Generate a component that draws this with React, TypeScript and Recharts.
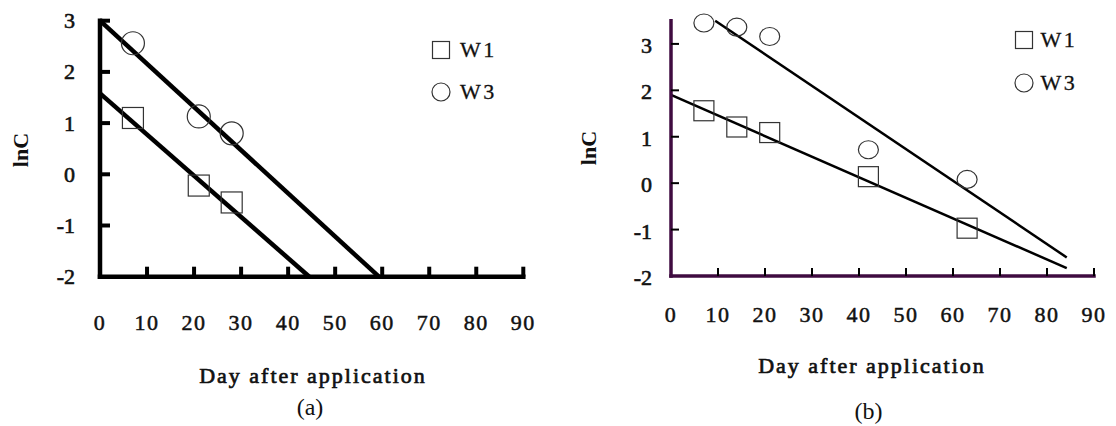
import { ComposedChart, Line, Scatter, XAxis, YAxis, Legend } from 'recharts';

const SERIF = '"Liberation Serif", "Times New Roman", serif';

const dayTicks = [0, 10, 20, 30, 40, 50, 60, 70, 80, 90];
const lnTicks = [-2, -1, 0, 1, 2, 3];
const seriesNames = ['W1', 'W3'];

// panel (a)
const daysA = [7, 21, 28];
const w1LnA = [1.1, -0.22, -0.55];
const w3LnA = [2.56, 1.13, 0.8];
const w1FitDaysA = [0, 44.5];
const w1FitLnA = [1.58, -2];
const w3FitDaysA = [0, 59.3];
const w3FitLnA = [3, -2];

// panel (b)
const daysB = [7, 14, 21, 42, 63];
const w1LnB = [1.56, 1.21, 1.09, 0.14, -0.97];
const w3LnB = [3.45, 3.36, 3.16, 0.72, 0.08];
const w1FitDaysB = [0, 84.2];
const w1FitLnB = [1.9, -1.83];
const w3FitDaysB = [9.4, 84.2];
const w3FitLnB = [3.5, -1.6];

const pts = (xs: number[], ys: number[]) => xs.map((x, i) => ({ x, y: ys[i] }));

type Cfg = {
  left: number;
  margin: { top: number; right: number; left: number; bottom: number };
  yDomain: [number, number];
  axisColor: string;
  axisWidth: number;
  tickWidth: number;
  tickLen: number;
  fitWidth: number;
  xTickDy: number;
  yTickDx: number;
  yTickDy: number;
  sq: number;
  rx: number;
  ry: number;
  w1: { x: number; y: number }[];
  w3: { x: number; y: number }[];
  w1Fit: { x: number; y: number }[];
  w3Fit: { x: number; y: number }[];
  xLabel: { x: number; y: number };
  yLabel: { x: number; y: number };
  caption: { text: string; x: number; y: number };
  legend: { top: number; left: number; rowH: number; gap: number };
};

const panels: Cfg[] = [
  {
    left: 0,
    margin: { top: 20.7, right: 34.7, left: 40, bottom: 109.3 },
    yDomain: [-2, 3],
    axisColor: '#000',
    axisWidth: 4.5,
    tickWidth: 4,
    tickLen: 10,
    fitWidth: 4.5,
    xTickDy: 53,
    yTickDx: 25,
    yTickDy: 7.5,
    sq: 21,
    rx: 11.5,
    ry: 11.5,
    w1: pts(daysA, w1LnA),
    w3: pts(daysA, w3LnA),
    w1Fit: pts(w1FitDaysA, w1FitLnA),
    w3Fit: pts(w3FitDaysA, w3FitLnA),
    xLabel: { x: 313, y: 383 },
    yLabel: { x: 20, y: 150 },
    caption: { text: '(a)', x: 310, y: 415 },
    legend: { top: 29, left: 430, rowH: 42, gap: 8 },
  },
  {
    left: 558,
    margin: { top: 20.7, right: 22, left: 53, bottom: 110 },
    yDomain: [-2, 3.5],
    axisColor: '#3f0b40',
    axisWidth: 3.5,
    tickWidth: 2,
    tickLen: 8,
    fitWidth: 2.5,
    xTickDy: 46,
    yTickDx: 19,
    yTickDy: 9,
    sq: 20,
    rx: 10,
    ry: 9,
    w1: pts(daysB, w1LnB),
    w3: pts(daysB, w3LnB),
    w1Fit: pts(w1FitDaysB, w1FitLnB),
    w3Fit: pts(w3FitDaysB, w3FitLnB),
    xLabel: { x: 314, y: 373 },
    yLabel: { x: 30, y: 148 },
    caption: { text: '(b)', x: 310.5, y: 419 },
    legend: { top: 18.5, left: 455, rowH: 43, gap: 5.5 },
  },
];

function Panel({ cfg }: { cfg: Cfg }) {
  const square = (p: any) => (
    <rect x={p.cx - cfg.sq / 2} y={p.cy - cfg.sq / 2} width={cfg.sq} height={cfg.sq} fill="none" stroke="#333" strokeWidth={1.2} />
  );
  const circle = (p: any) => (
    <ellipse cx={p.cx} cy={p.cy} rx={cfg.rx} ry={cfg.ry} fill="none" stroke="#333" strokeWidth={1.2} />
  );

  const xTick = (p: any) => (
    <g>
      {p.payload.value !== 0 && (
        <line x1={p.x} x2={p.x} y1={p.y} y2={p.y - cfg.tickLen} stroke="#000" strokeWidth={cfg.tickWidth} />
      )}
      <text x={p.x} y={p.y + cfg.xTickDy} textAnchor="middle" fontFamily={SERIF} fontSize={22} letterSpacing={1.5} fill="#111" stroke="#111" strokeWidth={0.5}>
        {p.payload.value}
      </text>
    </g>
  );
  const yTick = (p: any) => (
    <g>
      {p.payload.value !== cfg.yDomain[0] && (
        <line x1={p.x} x2={p.x + cfg.tickLen} y1={p.y} y2={p.y} stroke="#000" strokeWidth={cfg.tickWidth} />
      )}
      <text x={p.x - cfg.yTickDx} y={p.y + cfg.yTickDy} textAnchor="end" fontFamily={SERIF} fontSize={22} fill="#111" stroke="#111" strokeWidth={0.6}>
        {p.payload.value}
      </text>
    </g>
  );

  const renderLegend = () => (
    <div style={{ fontFamily: SERIF, fontSize: 22, color: '#111', letterSpacing: 2.5 }}>
      {seriesNames.map((name, i) => (
        <div key={name} style={{ display: 'flex', alignItems: 'center', height: cfg.legend.rowH }}>
          <svg width={22} height={22}>
            {i === 0 ? (
              <rect x={2.5} y={2.5} width={17} height={17} fill="none" stroke="#333" strokeWidth={1.2} />
            ) : (
              <circle cx={11} cy={11} r={9} fill="none" stroke="#333" strokeWidth={1.2} />
            )}
          </svg>
          <span style={{ marginLeft: cfg.legend.gap, lineHeight: 1, WebkitTextStroke: '0.3px #111' }}>{name}</span>
        </div>
      ))}
    </div>
  );

  return (
    <div style={{ position: 'absolute', left: cfg.left, top: 0, width: 558, height: 426 }}>
      <ComposedChart width={558} height={426} margin={cfg.margin}>
        <XAxis
          type="number"
          dataKey="x"
          domain={[0, 90]}
          ticks={dayTicks}
          interval={0}
          height={40}
          tickSize={0}
          tickMargin={0}
          tickLine={false}
          axisLine={{ stroke: cfg.axisColor, strokeWidth: cfg.axisWidth, strokeLinecap: 'square' }}
          tick={xTick}
          label={{
            value: 'Day after application',
            content: () => (
              <text x={cfg.xLabel.x} y={cfg.xLabel.y} textAnchor="middle" fontFamily={SERIF} fontSize={22} letterSpacing={2} fill="#111" stroke="#111" strokeWidth={0.7}>
                Day after application
              </text>
            ),
          }}
        />
        <YAxis
          type="number"
          dataKey="y"
          domain={cfg.yDomain}
          ticks={lnTicks}
          interval={0}
          width={60}
          tickSize={0}
          tickMargin={0}
          tickLine={false}
          axisLine={{ stroke: cfg.axisColor, strokeWidth: cfg.axisWidth, strokeLinecap: 'square' }}
          tick={yTick}
          label={{
            value: 'lnC',
            content: () => (
              <text
                x={cfg.yLabel.x}
                y={cfg.yLabel.y}
                transform={`rotate(-90 ${cfg.yLabel.x} ${cfg.yLabel.y})`}
                textAnchor="middle"
                dominantBaseline="central"
                fontFamily={SERIF}
                fontSize={22}
                fontWeight="bold"
                fill="#111"
              >
                lnC
              </text>
            ),
          }}
        />
        <Scatter name="W1" data={cfg.w1} dataKey="y" shape={square} isAnimationActive={false} />
        <Scatter name="W3" data={cfg.w3} dataKey="y" shape={circle} isAnimationActive={false} />
        <Line data={cfg.w1Fit} dataKey="y" type="linear" stroke="#000" strokeWidth={cfg.fitWidth} dot={false} activeDot={false} legendType="none" isAnimationActive={false} />
        <Line data={cfg.w3Fit} dataKey="y" type="linear" stroke="#000" strokeWidth={cfg.fitWidth} dot={false} activeDot={false} legendType="none" isAnimationActive={false} />
        <Legend
          layout="horizontal"
          align="center"
          verticalAlign="middle"
          content={renderLegend}
          wrapperStyle={{ position: 'absolute', top: cfg.legend.top, left: cfg.legend.left, width: 'auto' }}
        />
      </ComposedChart>
      <div
        style={{
          position: 'absolute',
          left: cfg.caption.x - 30,
          width: 60,
          top: cfg.caption.y - 20,
          textAlign: 'center',
          fontFamily: SERIF,
          fontSize: 24,
          lineHeight: '24px',
          color: '#111',
        }}
      >
        {cfg.caption.text}
      </div>
    </div>
  );
}

export default function App() {
  return (
    <div style={{ position: 'absolute', left: 0, top: 0, width: 1116, height: 426, background: '#fff' }}>
      {panels.map((cfg) => (
        <Panel key={cfg.caption.text} cfg={cfg} />
      ))}
    </div>
  );
}
